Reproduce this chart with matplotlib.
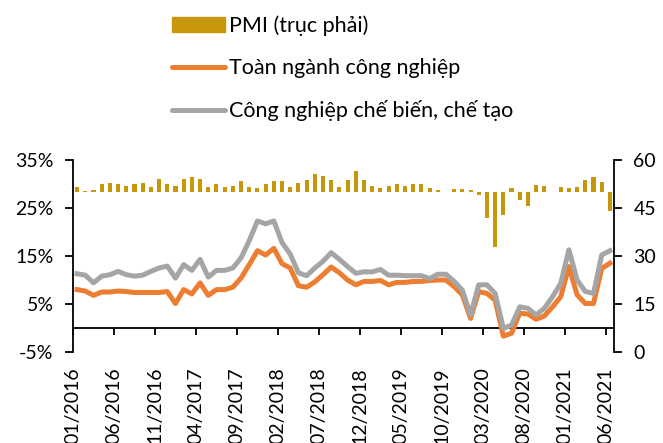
import numpy as np
import matplotlib
matplotlib.use("Agg")
import matplotlib.pyplot as plt
from matplotlib.patches import Patch
from matplotlib.lines import Line2D

plt.rcParams['font.family'] = ['Lato', 'DejaVu Sans']

# data, monthly 01/2016 .. 06/2021
tick_labels = ['01/2016', '06/2016', '11/2016', '04/2017', '09/2017', '02/2018', '07/2018',
               '12/2018', '05/2019', '10/2019', '03/2020', '08/2020', '01/2021', '06/2021']

pmi = [51.5, 50.3, 50.7, 52.4, 52.7, 52.6, 51.9, 52.4, 52.9, 51.7, 54.0, 52.5,
       51.9, 54.2, 54.6, 54.1, 51.6, 52.5, 51.7, 51.8, 53.3, 51.6, 51.4, 52.5,
       53.4, 53.5, 51.6, 52.7, 53.9, 55.7, 54.9, 53.7, 51.5, 53.9, 56.5, 53.8,
       51.9, 51.2, 51.9, 52.5, 52.0, 52.5, 52.6, 51.4, 50.5, 50.0, 51.0, 50.8,
       50.6, 49.0, 41.9, 32.7, 42.7, 51.1, 47.6, 45.7, 52.2, 51.8, 49.9, 51.7,
       51.3, 51.6, 53.6, 54.7, 53.1, 44.1]

toan_nganh = [8.0, 7.7, 6.8, 7.5, 7.5, 7.7, 7.6, 7.4, 7.4, 7.4, 7.4, 7.6,
              5.1, 8.0, 7.1, 9.4, 6.8, 8.0, 8.0, 8.5, 10.4, 13.2, 16.1, 15.2,
              16.6, 13.4, 12.5, 8.8, 8.5, 9.6, 11.1, 12.7, 11.5, 10.0, 9.0, 9.7,
              9.7, 9.9, 9.0, 9.5, 9.5, 9.7, 9.7, 9.9, 10.0, 10.0, 8.6, 6.9,
              2.0, 7.6, 7.2, 5.8, -1.7, -1.1, 3.1, 2.9, 1.8, 2.5, 4.4, 6.5,
              12.8, 6.9, 5.1, 5.1, 12.4, 13.5]

che_bien = [11.3, 11.0, 9.4, 10.8, 11.1, 11.8, 11.1, 10.8, 11.0, 11.8, 12.5, 12.9,
            10.4, 13.2, 12.0, 14.3, 10.6, 12.0, 12.0, 12.5, 14.6, 18.2, 22.3, 21.7,
            22.3, 17.8, 15.4, 11.5, 10.9, 12.5, 13.9, 15.7, 14.3, 12.8, 11.4, 11.7,
            11.7, 12.2, 11.0, 11.0, 10.9, 10.9, 10.9, 10.3, 11.2, 11.2, 9.7, 7.9,
            2.7, 9.0, 9.0, 7.2, -0.1, 0.6, 4.4, 4.1, 2.7, 4.1, 6.5, 9.3,
            16.3, 10.0, 7.6, 7.2, 15.2, 16.1]

bar_color = '#C8960A'
orange = '#ED7D31'
grey = '#A5A5A5'

x = np.arange(len(pmi))

fig = plt.figure(figsize=(6.63, 4.43), dpi=100)
ax = fig.add_axes([73 / 663, 91 / 443, 541 / 663, 192 / 443])
ax2 = ax.twinx()

# bars on right axis, around the 50 level
pmi_arr = np.array(pmi)
ax2.bar(x, pmi_arr - 50, bottom=50, width=0.5, color=bar_color)
ax2.set_ylim(0, 60)
ax2.set_yticks([0, 15, 30, 45, 60])

ax.plot(x, toan_nganh, color=orange, lw=3.6, solid_joinstyle='round', zorder=3)
ax.plot(x, che_bien, color=grey, lw=3.6, solid_joinstyle='round', zorder=4)
ax.set_zorder(ax2.get_zorder() + 1)
ax.patch.set_visible(False)

ax.set_xlim(-0.5, len(pmi) - 0.5)
ax.set_ylim(-5, 35)
ax.set_yticks([-5, 5, 15, 25, 35])
ax.set_yticklabels(['-5%', '5%', '15%', '25%', '35%'])

ax.set_xticks(np.arange(0, len(pmi) + 1, 5) - 0.5)
ax.set_xticklabels(tick_labels)

ax.spines['bottom'].set_position(('data', 0))
for a in (ax, ax2):
    a.spines['top'].set_visible(False)
    for s in a.spines.values():
        s.set_linewidth(1.3)
ax2.spines['bottom'].set_visible(False)
ax2.spines['left'].set_visible(False)
ax.spines['right'].set_visible(False)

ax.tick_params(axis='y', direction='out', length=6, width=1.3, pad=8, labelsize=14)
ax2.tick_params(axis='y', direction='out', length=6, width=1.3, pad=8, labelsize=14)
ax.tick_params(axis='x', direction='out', length=5, width=1.3, pad=23, labelsize=14,
               labelrotation=90)

handles = [Patch(color=bar_color),
           Line2D([], [], color=orange, lw=3.6, solid_capstyle='round'),
           Line2D([], [], color=grey, lw=3.6, solid_capstyle='round')]
labels = ['PMI (trục phải)', 'Toàn ngành công nghiệp', 'Công nghiệp chế biến, chế tạo']
fig.legend(handles, labels, loc='upper left', bbox_to_anchor=(163 / 663, 1 - 7 / 443),
           frameon=False, fontsize=15.5, handlelength=2.5, handletextpad=0.15,
           labelspacing=1.02, borderaxespad=0)

fig.savefig('out.png', dpi=100)
